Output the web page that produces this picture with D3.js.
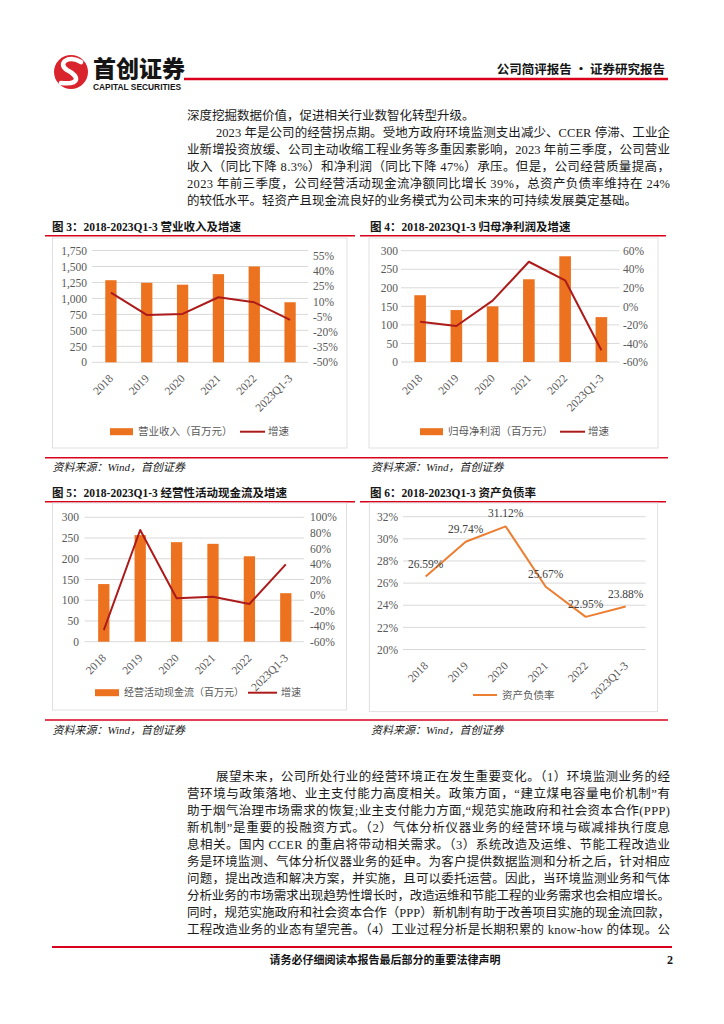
<!DOCTYPE html>
<html><head><meta charset="utf-8">
<script src="https://cdn.jsdelivr.net/npm/d3@7"></script>
<style>body{margin:0;background:#fff}svg{display:block}</style>
</head><body>
<svg id="page" width="724" height="1024"></svg>
<script>
// ---------------- DATA ----------------
const years = ["2018","2019","2020","2021","2022","2023Q1-3"];
const revenue = [1285,1245,1215,1380,1500,940];
const revenueGrowth = [0.185,-0.034,-0.024,0.14,0.09,-0.083];
const profit = [180,140,150,223,285,121];
const profitGrowth = [-0.165,-0.212,0.061,0.481,0.281,-0.474];
const cashflow = [139,257,240,236,206,117];
const cashflowGrowth = [-0.45,0.837,-0.042,-0.021,-0.115,0.395];
const debtRatio = [0.2659,0.2974,0.3112,0.2567,0.2295,0.2388];

const revLeftTicks = [0,250,500,750,1000,1250,1500,1750];
const revRightTicks = [-0.5,-0.35,-0.2,-0.05,0.1,0.25,0.4,0.55];
const profLeftTicks = [0,50,100,150,200,250,300];
const profRightTicks = [-0.6,-0.4,-0.2,0,0.2,0.4,0.6];
const cashLeftTicks = [0,50,100,150,200,250,300];
const cashRightTicks = [-0.6,-0.4,-0.2,0,0.2,0.4,0.6,0.8,1.0];
const debtTicks = [0.20,0.22,0.24,0.26,0.28,0.30,0.32];

const para1 = [
  {x:187, j:false, t:"深度挖掘数据价值，促进相关行业数智化转型升级。"},
  {x:216, j:true,  t:"2023 年是公司的经营拐点期。受地方政府环境监测支出减少、CCER 停滞、工业企"},
  {x:187, j:true,  t:"业新增投资放缓、公司主动收缩工程业务等多重因素影响，2023 年前三季度，公司营业"},
  {x:187, j:true,  t:"收入（同比下降 8.3%）和净利润（同比下降 47%）承压。但是，公司经营质量提高，"},
  {x:187, j:true,  t:"2023 年前三季度，公司经营活动现金流净额同比增长 39%，总资产负债率维持在 24%"},
  {x:187, j:false, t:"的较低水平。轻资产且现金流良好的业务模式为公司未来的可持续发展奠定基础。"}
];
const para2 = [
  {x:216, t:"展望未来，公司所处行业的经营环境正在发生重要变化。（1）环境监测业务的经"},
  {x:187, t:"营环境与政策落地、业主支付能力高度相关。政策方面，“建立煤电容量电价机制”有"},
  {x:187, t:"助于烟气治理市场需求的恢复;业主支付能力方面,“规范实施政府和社会资本合作(PPP)"},
  {x:187, t:"新机制”是重要的投融资方式。（2）气体分析仪器业务的经营环境与碳减排执行度息"},
  {x:187, t:"息相关。国内 CCER 的重启将带动相关需求。（3）系统改造及运维、节能工程改造业"},
  {x:187, t:"务是环境监测、气体分析仪器业务的延申。为客户提供数据监测和分析之后，针对相应"},
  {x:187, t:"问题，提出改造和解决方案，并实施，且可以委托运营。因此，当环境监测业务和气体"},
  {x:187, t:"分析业务的市场需求出现趋势性增长时，改造运维和节能工程的业务需求也会相应增长。"},
  {x:187, t:"同时，规范实施政府和社会资本合作（PPP）新机制有助于改善项目实施的现金流回款，"},
  {x:187, t:"工程改造业务的业态有望完善。（4）工业过程分析是长期积累的 know-how 的体现。公"}
];

// ---------------- STYLE ----------------
const RED = "#d9001b";
const ORANGE = "#ec7220";
const LINE_ORANGE = "#ed7d31";
const DARKRED = "#ad1a1a";
const GRID = "#d9d9d9";
const TICK = "#595959";
const SERIF = "'Liberation Serif','Times New Roman',serif";
const MIX = "'Liberation Serif','Noto Sans CJK SC',serif";
const CJK = "'Noto Sans CJK SC','Liberation Serif',sans-serif";
const pct = d => Math.round(d*100) + "%";

const svg = d3.select("#page");
svg.append("rect").attr("width",724).attr("height",1024).attr("fill","#fff");

// ---------------- HEADER ----------------
svg.append("circle").attr("cx",71).attr("cy",72).attr("r",17).attr("fill","#d9232d");
svg.append("path").attr("d","M81,62 C68,54 57,64 67,70 C79,76 81,85 61,83")
  .attr("fill","none").attr("stroke","#fff").attr("stroke-width",4.6).attr("stroke-linecap","round");
svg.append("text").attr("x",93).attr("y",77).text("首创证券")
  .attr("font-family",CJK).attr("font-weight",900).attr("font-size",23).attr("fill","#151515");
svg.append("text").attr("x",93).attr("y",90).text("CAPITAL SECURITIES")
  .attr("font-family","'Liberation Sans',Arial,sans-serif").attr("font-weight",700).attr("font-size",8.4).attr("fill","#151515");
svg.append("line").attr("x1",184).attr("x2",668).attr("y1",79).attr("y2",79).attr("stroke",RED).attr("stroke-width",2.6);
svg.append("text").attr("x",665).attr("y",74).attr("text-anchor","end").text("公司简评报告 · 证券研究报告")
  .attr("font-family",CJK).attr("font-weight",700).attr("font-size",12.5).attr("fill","#151515");

// ---------------- PARAGRAPHS ----------------
function para(lines, baseY, justifyAll){
  lines.forEach((l,i)=>{
    const t = svg.append("text").attr("x",l.x).attr("y",baseY + i*17).text(l.t)
      .attr("font-family",MIX).attr("font-size",12.5).attr("fill","#1a1a1a");
    if (justifyAll || l.j) t.attr("textLength",670 - l.x).attr("lengthAdjust","spacing");
  });
}
para(para1, 119.5, false);
para(para2, 780.5, true);

// ---------------- FOOTER ----------------
svg.append("line").attr("x1",52).attr("x2",672).attr("y1",947).attr("y2",947).attr("stroke",RED).attr("stroke-width",2.2);
svg.append("text").attr("x",385).attr("y",964).attr("text-anchor","middle").text("请务必仔细阅读本报告最后部分的重要法律声明")
  .attr("font-family",CJK).attr("font-weight",700).attr("font-size",11).attr("fill","#151515");
svg.append("text").attr("x",673).attr("y",964).attr("text-anchor","end").text("2")
  .attr("font-family",SERIF).attr("font-weight",700).attr("font-size",12).attr("fill","#151515");

// ---------------- CHART FRAMES ----------------
function frame(title, tx, ty, lx1, lx2, ly){
  svg.append("text").attr("x",tx).attr("y",ty).text(title)
    .attr("font-family",MIX).attr("font-weight",700).attr("font-size",11.5).attr("fill","#151515");
  svg.append("line").attr("x1",lx1).attr("x2",lx2).attr("y1",ly).attr("y2",ly).attr("stroke",RED).attr("stroke-width",1.5);
}
frame("图 3：2018-2023Q1-3 营业收入及增速", 52, 231, 45, 355, 235.7);
frame("图 4：2018-2023Q1-3 归母净利润及增速", 370, 231, 360, 666, 235.7);
frame("图 5：2018-2023Q1-3 经营性活动现金流及增速", 52, 497, 45, 355, 501.7);
frame("图 6：2018-2023Q1-3 资产负债率", 370, 497, 360, 666, 501.7);

function source(y, ty){
  svg.append("line").attr("x1",45).attr("x2",668).attr("y1",y).attr("y2",y).attr("stroke",RED).attr("stroke-width",1.5);
  [52.5, 371].forEach(x=>{
    svg.append("text").attr("x",x).attr("y",ty).text("资料来源：Wind，首创证券")
      .attr("font-family",MIX).attr("font-style","italic").attr("font-size",11).attr("fill","#1a1a1a");
  });
}
source(457.7, 471);
source(720, 733.5);

// ---------------- AXIS HELPERS ----------------
function styleAxis(sel, anchor){
  sel.select(".domain").remove();
  sel.selectAll(".tick line").remove();
  sel.attr("font-family",SERIF).attr("font-size",11.5);
  sel.selectAll("text").attr("fill",TICK);
  if (anchor) sel.selectAll("text").attr("text-anchor",anchor);
}
function xLabels(g, x, bottom){
  const ax = g.append("g").attr("transform",`translate(0,${bottom})`).call(d3.axisBottom(x).tickSize(0));
  ax.select(".domain").remove();
  ax.attr("font-family",SERIF).attr("font-size",11.5);
  ax.selectAll("text").attr("fill",TICK).attr("y",0).attr("dy",0).attr("x",0)
    .attr("text-anchor","end").attr("transform","translate(3,17) rotate(-45)");
}

function combo(o){
  const g = svg.append("g");
  g.append("rect").attr("x",o.box[0]).attr("y",o.box[1]).attr("width",o.box[2]).attr("height",o.box[3])
    .attr("fill","none").attr("stroke",GRID).attr("stroke-width",0.8);
  const x = d3.scaleBand().domain(years).range([o.px0,o.px1]).paddingInner(o.pad).paddingOuter(o.pad/2);
  const yL = d3.scaleLinear().domain(o.lDom).range([o.pyB,o.pyT]);
  const yR = d3.scaleLinear().domain(o.rDom).range([o.pyB,o.pyT]);
  g.selectAll("line.grid").data(o.lTicks).join("line").attr("class","grid")
    .attr("x1",o.px0-1).attr("x2",o.px1).attr("y1",d=>yL(d)).attr("y2",d=>yL(d))
    .attr("stroke",GRID).attr("stroke-width",1);
  g.append("g").attr("transform",`translate(${o.lx},0)`)
    .call(d3.axisLeft(yL).tickValues(o.lTicks).tickFormat(o.lFmt).tickSize(0).tickPadding(0))
    .call(s=>styleAxis(s,"end"));
  g.append("g").attr("transform",`translate(${o.rx},0)`)
    .call(d3.axisRight(yR).tickValues(o.rTicks).tickFormat(pct).tickSize(0).tickPadding(0))
    .call(s=>styleAxis(s,"start"));
  g.selectAll("rect.bar").data(o.bars).join("rect").attr("class","bar")
    .attr("x",(d,i)=>x(years[i])).attr("width",x.bandwidth())
    .attr("y",d=>yL(d)).attr("height",d=>yL(0)-yL(d)).attr("fill",ORANGE);
  const line = d3.line().x((d,i)=>x(years[i])+x.bandwidth()/2).y(d=>yR(d));
  g.append("path").datum(o.line).attr("d",line).attr("fill","none")
    .attr("stroke",DARKRED).attr("stroke-width",2).attr("stroke-linejoin","round");
  xLabels(g, x, o.pyB);
  // legend
  const L = o.leg;
  g.append("rect").attr("x",L.rx).attr("y",L.y-3.5).attr("width",L.rw).attr("height",7).attr("fill",ORANGE);
  g.append("text").attr("x",L.tx).attr("y",L.y).attr("dy","0.35em").text(L.label)
    .attr("font-family",CJK).attr("font-size",L.fs).attr("fill",TICK);
  g.append("line").attr("x1",L.lx1).attr("x2",L.lx2).attr("y1",L.y).attr("y2",L.y).attr("stroke",DARKRED).attr("stroke-width",2);
  g.append("text").attr("x",L.t2x).attr("y",L.y).attr("dy","0.35em").text("增速")
    .attr("font-family",CJK).attr("font-size",L.fs).attr("fill",TICK);
}

combo({box:[52.5,238,294.5,210], px0:93, px1:308, pad:0.685, pyB:362.3, pyT:250.5,
  lDom:[0,1750], rDom:[-0.5,0.6], lTicks:revLeftTicks, rTicks:revRightTicks,
  lFmt:d3.format(","), lx:87, rx:313, bars:revenue, line:revenueGrowth,
  leg:{rx:110, rw:23, y:431.7, tx:138, label:"营业收入（百万元）", lx1:240, lx2:265, t2x:268, fs:10.5}});

combo({box:[369,238,289,210], px0:402, px1:619.5, pad:0.68, pyB:362, pyT:250.7,
  lDom:[0,300], rDom:[-0.6,0.6], lTicks:profLeftTicks, rTicks:profRightTicks,
  lFmt:d3.format("d"), lx:398, rx:623, bars:profit, line:profitGrowth,
  leg:{rx:420, rw:23, y:431.7, tx:448, label:"归母净利润（百万元）", lx1:560, lx2:585, t2x:588, fs:10.5}});

combo({box:[52.5,503,294,207], px0:85.6, px1:304, pad:0.69, pyB:641.7, pyT:517.3,
  lDom:[0,300], rDom:[-0.6,1.0], lTicks:cashLeftTicks, rTicks:cashRightTicks,
  lFmt:d3.format("d"), lx:79, rx:310, bars:cashflow, line:cashflowGrowth,
  leg:{rx:95, rw:24, y:692.7, tx:124, label:"经营活动现金流（百万元）", lx1:248, lx2:277, t2x:281, fs:10}});

// ---------------- CHART 6 (line) ----------------
(function(){
  const g = svg.append("g");
  g.append("rect").attr("x",369.3).attr("y",503).attr("width",288.4).attr("height",208.7)
    .attr("fill","none").attr("stroke",GRID).attr("stroke-width",0.8);
  const x = d3.scaleBand().domain(years).range([405.7,645.7]);
  const y = d3.scaleLinear().domain([0.20,0.32]).range([649.5,516.7]);
  g.selectAll("line.grid").data(debtTicks).join("line").attr("class","grid")
    .attr("x1",403).attr("x2",645.7).attr("y1",d=>y(d)).attr("y2",d=>y(d)).attr("stroke",GRID);
  g.append("g").attr("transform","translate(398,0)")
    .call(d3.axisLeft(y).tickValues(debtTicks).tickFormat(pct).tickSize(0).tickPadding(0))
    .call(s=>styleAxis(s,"end"));
  const cx = (d,i)=>x(years[i])+x.bandwidth()/2;
  g.append("path").datum(debtRatio).attr("d",d3.line().x(cx).y(d=>y(d)))
    .attr("fill","none").attr("stroke",LINE_ORANGE).attr("stroke-width",2).attr("stroke-linejoin","round");
  g.selectAll("text.lab").data(debtRatio).join("text").attr("class","lab")
    .attr("x",cx).attr("y",d=>y(d)-13).attr("dy","0.35em").attr("text-anchor","middle")
    .text(d=>(d*100).toFixed(2)+"%").attr("font-family",SERIF).attr("font-size",11.5).attr("fill","#404040");
  xLabels(g, x, 649.5);
  g.append("line").attr("x1",473).attr("x2",497).attr("y1",695).attr("y2",695).attr("stroke",LINE_ORANGE).attr("stroke-width",2);
  g.append("text").attr("x",502).attr("y",695).attr("dy","0.35em").text("资产负债率")
    .attr("font-family",CJK).attr("font-size",10.5).attr("fill",TICK);
})();
</script>
</body></html>
